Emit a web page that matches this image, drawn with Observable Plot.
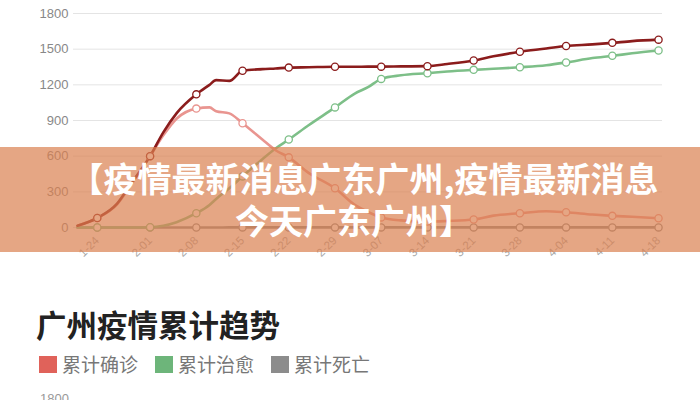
<!DOCTYPE html>
<html>
<head>
<meta charset="utf-8">
<script src="https://cdn.jsdelivr.net/npm/d3@7"></script>
<script src="https://cdn.jsdelivr.net/npm/@observablehq/plot@0.6"></script>
<style>
  html, body { margin:0; padding:0; background:#fff; width:700px; height:400px; overflow:hidden; }
  body { position:relative; font-family:"Noto Sans CJK SC","Noto Sans",sans-serif; }
  #chart { position:absolute; left:0; top:0; }
  #banner { position:absolute; left:0; top:147px; width:700px; height:105px; background:rgba(218,128,80,0.7);
            color:#fff; font-weight:700; font-size:34px; line-height:42px; box-sizing:border-box; padding-top:10px; white-space:nowrap; }
  #banner .l1 { text-align:center; padding-left:28px; }
  #banner .l2 { text-align:center; padding-left:8px; }
  #title { position:absolute; left:36px; top:304px; font-size:30.5px; font-weight:700; color:#222; line-height:40px; }
  #legend { position:absolute; left:39px; top:352px; display:flex; align-items:center; font-size:19px; color:#777; line-height:24px; }
  .sw { width:18px; height:17px; display:inline-block; margin-right:5px; }
  .item { display:flex; align-items:center; margin-right:17px; }
  #next { position:absolute; left:40px; top:391px; font-family:"Liberation Sans",Arial,sans-serif; font-size:13px; color:#999; }
</style>
</head>
<body>
<div id="chart"></div>
<div id="banner"><div class="l1">【疫情最新消息广东广州,疫情最新消息</div><div class="l2">今天广东广州】</div></div>
<div id="title">广州疫情累计趋势</div>
<div id="legend"></div>
<div id="next">1800</div>
<script>
// ---- data ----
const dates = ["1-21","1-24","1-27","1-29","2-01","2-03","2-05","2-08","2-10","2-11","2-13","2-15","2-18","2-20","2-22","2-25","2-29","3-03","3-05","3-07","3-10","3-14","3-17","3-21","3-24","3-28","4-01","4-04","4-08","4-11","4-14","4-18"];
const confirmedTotal = [15,80,200,360,600,800,960,1120,1200,1240,1233,1318,1332,1338,1345,1348,1352,1352,1353,1353,1355,1357,1375,1405,1440,1478,1505,1527,1540,1553,1568,1580];
const confirmedActive = [15,80,195,350,600,775,915,1000,1010,978,960,877,740,650,590,460,330,190,130,85,60,50,55,67,100,120,137,128,109,98,90,78];
const cured = [0,0,0,0,2,15,45,120,190,240,330,430,575,665,740,860,1010,1127,1180,1250,1280,1298,1312,1326,1335,1348,1365,1388,1425,1444,1465,1489];
const deaths = [0,0,0,0,0,0,0,0,0,0,1,1,1,1,1,1,1,1,1,1,1,1,1,1,1,1,1,1,1,1,1,1];
const markerDates = ["1-24","2-01","2-08","2-15","2-22","2-29","3-07","3-14","3-21","3-28","4-04","4-11","4-18"];
const yTicks = [0,300,600,900,1200,1500,1800];
const legendLabels = ["累计确诊","累计治愈","累计死亡"];
const legendColors = ["#e0625a","#6db57a","#8c8c8c"];

// ---- build ----
const toDate = s => { const [m,d] = s.split("-").map(Number); return new Date(Date.UTC(2020, m-1, d)); };
const seriesDefs = [
  {key:"deaths", values:deaths, color:"#8a8a8a"},
  {key:"cured", values:cured, color:"#7dbf88"},
  {key:"active", values:confirmedActive, color:"#e99590"},
  {key:"total", values:confirmedTotal, color:"#8b1c1c"}
];
const rows = [];
for (const s of seriesDefs) dates.forEach((d,i) => rows.push({series:s.key, date:toDate(d), label:d, value:s.values[i], color:s.color}));
const markSet = new Set(markerDates);
const day = 86400000;
const x0 = toDate(dates[0]).getTime() - 0.6*day;
const x1 = toDate(dates[dates.length-1]).getTime() + 0.6*day;

const marks = [Plot.ruleY(yTicks, {stroke:"#e4e4e4", strokeWidth:1})];
for (const s of seriesDefs) {
  const data = rows.filter(r => r.series === s.key);
  marks.push(Plot.line(data, {x:"date", y:"value", stroke:s.color, strokeWidth:2.6, curve:"monotone-x"}));
}
for (const s of seriesDefs) {
  const data = rows.filter(r => r.series === s.key && markSet.has(r.label));
  marks.push(Plot.dot(data, {x:"date", y:"value", r:3.6, fill:"#fff", stroke:s.color, strokeWidth:1.3}));
}
marks.push(Plot.axisY({ticks:yTicks, tickFormat:d => String(d), tickSize:0, tickPadding:5, fill:"#888", fontSize:13, label:null}));
marks.push(Plot.axisX({ticks:markerDates.map(toDate), tickFormat:d3.utcFormat("%-m-%d"), tickRotate:-45, tickSize:0, tickPadding:11, fill:"#a8a8a8", fontSize:11.5, label:null}));

const chart = Plot.plot({
  width:700, height:280,
  marginTop:13, marginBottom:53, marginLeft:73, marginRight:38,
  style:{fontFamily:"'Liberation Sans', Arial, sans-serif", background:"transparent"},
  x:{type:"utc", domain:[new Date(x0), new Date(x1)]},
  y:{domain:[0,1800]},
  marks
});
document.getElementById("chart").appendChild(chart);

const leg = document.getElementById("legend");
legendLabels.forEach((t,i) => {
  const it = document.createElement("span"); it.className = "item";
  const sw = document.createElement("span"); sw.className = "sw"; sw.style.background = legendColors[i];
  it.appendChild(sw); it.appendChild(document.createTextNode(t)); leg.appendChild(it);
});
</script>
</body>
</html>
